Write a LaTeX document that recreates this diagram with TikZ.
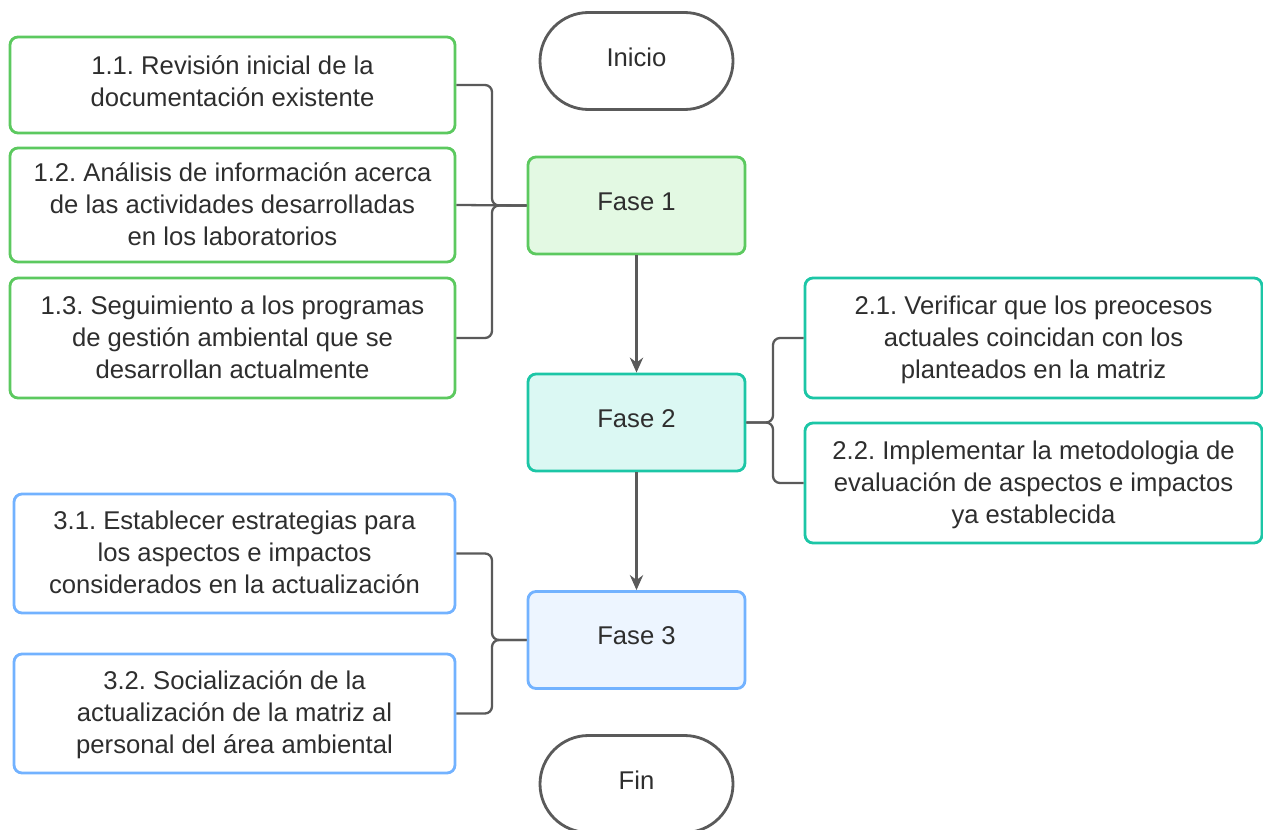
\documentclass[tikz,border=0pt]{standalone}
\usepackage{xcolor}
\usepackage{fontspec}
\setmainfont{Liberation Sans}
\usepackage{tikz}
\usetikzlibrary{arrows,arrows.meta,positioning}

\definecolor{verde}{HTML}{5CC95F}
\definecolor{verdeclaro}{HTML}{E3F9E3}
\definecolor{turquesa}{HTML}{1CC6A6}
\definecolor{turquesaclaro}{HTML}{DBF8F3}
\definecolor{azul}{HTML}{72B2FF}
\definecolor{azulclaro}{HTML}{EDF5FF}
\definecolor{gris}{HTML}{5A5A5A}
\definecolor{texto}{HTML}{2E2E2E}

\begin{document}
\frenchspacing
\begin{tikzpicture}[>={Stealth[length=8.5pt,width=7.5pt]},line width=1.3pt,font=\fontsize{14.6}{18.2}\selectfont,text=texto]
  \tikzstyle{fase}=[draw,rounded corners=0.16cm,line width=1.6pt,minimum width=4.34cm,minimum height=1.94cm,text depth=0.16cm]
  \tikzstyle{tarea}=[draw,fill=white,rounded corners=0.16cm,line width=1.6pt,align=center,text depth=0.04cm]
  \tikzstyle{terminal}=[draw=gris,rounded corners=0.97cm,line width=1.6pt,minimum width=3.86cm,minimum height=1.94cm,text depth=0.16cm]
  \tikzstyle{enlace}=[draw=gris,rounded corners=0.14cm]

  \useasboundingbox (0,0) rectangle (25.26,-16.6);

  \node[terminal] 	(Ini)	at (12.73,-1.22)	{Inicio};
  \node[fase,draw=verde,fill=verdeclaro]	(F1)	at (12.73,-4.11)	{Fase 1};
  \node[fase,draw=turquesa,fill=turquesaclaro]	(F2)	at (12.73,-8.45)	{Fase 2};
  \node[fase,draw=azul,fill=azulclaro]	(F3)	at (12.73,-12.8)	{Fase 3};
  \node[terminal]	(Fin)	at (12.73,-15.68)	{Fin};

  % tareas de la fase 1
  \node[tarea,draw=verde,minimum width=8.9cm,minimum height=1.92cm,text depth=0.16cm]	(T11)	at (4.65,-1.7)	{1.1. Revisión inicial de la\\documentación existente};
  \node[tarea,draw=verde,minimum width=8.9cm,minimum height=2.28cm]	(T12)	at (4.65,-4.1)	{1.2. Análisis de información acerca\\de las actividades desarrolladas\\en los laboratorios};
  \node[tarea,draw=verde,minimum width=8.9cm,minimum height=2.4cm]	(T13)	at (4.65,-6.76)	{1.3. Seguimiento a los programas\\de gestión ambiental que se\\desarrollan actualmente};

  % tareas de la fase 2
  \node[tarea,draw=turquesa,minimum width=9.14cm,minimum height=2.4cm]	(T21)	at (20.67,-6.76)	{2.1. Verificar que los preocesos\\actuales coincidan con los\\planteados en la matriz};
  \node[tarea,draw=turquesa,minimum width=9.14cm,minimum height=2.4cm]	(T22)	at (20.67,-9.66)	{2.2. Implementar la metodologia de\\evaluación de aspectos e impactos\\ya establecida};

  % tareas de la fase 3
  \node[tarea,draw=azul,minimum width=8.82cm,minimum height=2.38cm]	(T31)	at (4.69,-11.07)	{3.1. Establecer estrategias para\\los aspectos e impactos\\considerados en la actualización};
  \node[tarea,draw=azul,minimum width=8.82cm,minimum height=2.38cm]	(T32)	at (4.69,-14.27)	{3.2. Socialización de la\\actualización de la matriz al\\personal del área ambiental};

  \coordinate (J1) at (9.84,-4.11);
  \coordinate (J2) at (15.46,-8.45);
  \coordinate (J3) at (9.84,-12.8);

  \path[enlace]	(T11.east)	-| (J1) -- (F1.west);
  \path[enlace]	(T13.east)	-| (J1) -- (F1.west);
  \path[enlace]	(T12.east)	-- (F1.west);

  \path[enlace]	(T21.west)	-| (J2) -- (F2.east);
  \path[enlace]	(T22.west)	-| (J2) -- (F2.east);

  \path[enlace]	(T31.east)	-| (J3) -- (F3.west);
  \path[enlace]	(T32.east)	-| (J3) -- (F3.west);

  \path[draw=gris,->,line width=1.5pt]	(F1)	edge	(F2)
		(F2)	edge	(F3);
\end{tikzpicture}
\end{document}
